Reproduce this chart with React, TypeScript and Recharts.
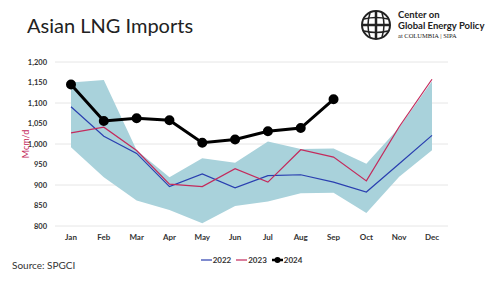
import React from 'react';
import {
  ComposedChart,
  Area,
  Line,
  XAxis,
  YAxis,
  CartesianGrid,
} from 'recharts';

const months = ['Jan', 'Feb', 'Mar', 'Apr', 'May', 'Jun', 'Jul', 'Aug', 'Sep', 'Oct', 'Nov', 'Dec'];
const imports2022 = [1091, 1019, 977, 896, 927, 893, 923, 925, 907, 883, 952, 1021];
const imports2023 = [1027, 1041, 984, 902, 896, 940, 907, 986, 968, 910, 1042, 1158];
const imports2024 = [1145, 1056, 1063, 1058, 1003, 1011, 1031, 1039, 1109, null, null, null];
const rangeLow = [992, 919, 862, 839, 807, 849, 860, 880, 881, 832, 920, 985];
const rangeHigh = [1150, 1156, 985, 919, 965, 954, 1006, 988, 989, 952, 1040, 1153];
const yTicks = [800, 850, 900, 950, 1000, 1050, 1100, 1150, 1200];

const data = months.map((m, i) => ({
  month: m,
  range: [rangeLow[i], rangeHigh[i]],
  y2022: imports2022[i],
  y2023: imports2023[i],
  y2024: imports2024[i],
}));

const FONT = 'Lato, "Open Sans", sans-serif';
const BLUE = '#2a3fb0';
const RED = '#c42a5c';

function LegendBox() {
  const item = (color: string, label: string, dot: boolean, width: number) => (
    <span style={{ display: 'inline-flex', alignItems: 'center', marginRight: 5 }}>
      <svg width={11} height={8}>
        <line x1={0} y1={4} x2={11} y2={4} stroke={color} strokeWidth={width} />
        {dot && <circle cx={5.5} cy={4} r={3} fill={color} />}
      </svg>
      <span style={{ marginLeft: 1 }}>{label}</span>
    </span>
  );
  return (
    <div
      style={{
        position: 'absolute',
        left: 0,
        width: 500,
        top: 255,
        display: 'flex',
        justifyContent: 'center',
        fontFamily: FONT,
        fontWeight: 700,
        fontSize: 8,
        color: '#333',
        paddingLeft: 4,
      }}
    >
      {item(BLUE, '2022', false, 1.2)}
      {item(RED, '2023', false, 1.2)}
      {item('#000', '2024', true, 2.5)}
    </div>
  );
}

function Logo() {
  return (
    <svg width={32} height={32} viewBox="0 0 32 32" style={{ position: 'absolute', left: 360, top: 9 }}>
      <circle cx={16} cy={16} r={14} fill="none" stroke="#222" strokeWidth={2} />
      <line x1={16} y1={2} x2={16} y2={30} stroke="#222" strokeWidth={2.5} />
      <line x1={2} y1={16} x2={30} y2={16} stroke="#222" strokeWidth={2.5} />
      <path d="M10 4 Q6 16 10 28 M22 4 Q26 16 22 28" fill="none" stroke="#222" strokeWidth={1.5} />
      <path d="M4 10 Q16 7 28 10 M4 22 Q16 25 28 22" fill="none" stroke="#222" strokeWidth={1.5} />
    </svg>
  );
}

export default function App() {
  return (
    <div style={{ position: 'absolute', left: 0, top: 0, width: 500, height: 281, background: '#fff', overflow: 'hidden' }}>
      <div
        style={{
          position: 'absolute',
          left: 27,
          top: 13,
          fontFamily: FONT,
          fontSize: 20,
          color: '#222',
          whiteSpace: 'nowrap',
        }}
      >
        Asian LNG Imports
      </div>
      <Logo />
      <div
        style={{
          position: 'absolute',
          left: 398,
          top: 9,
          fontFamily: FONT,
          fontWeight: 700,
          fontSize: 9.5,
          lineHeight: '11px',
          color: '#222',
          whiteSpace: 'nowrap',
        }}
      >
        <div>Center on</div>
        <div>Global Energy Policy</div>
        <div style={{ fontFamily: '"Liberation Serif", serif', fontWeight: 400, fontSize: 6.5, lineHeight: '9px' }}>
          at COLUMBIA | SIPA
        </div>
      </div>
      <div
        style={{
          position: 'absolute',
          left: 12,
          top: 259,
          fontFamily: FONT,
          fontSize: 10,
          color: '#333',
        }}
      >
        Source: SPGCI
      </div>
      <LegendBox />
      <ComposedChart
        width={500}
        height={281}
        data={data}
        margin={{ top: 62, right: 52, bottom: 25, left: 0 }}
        style={{ position: 'absolute', left: 0, top: 0 }}
      >
        <CartesianGrid vertical={false} stroke="#e6e6e6" />
        <XAxis
          dataKey="month"
          height={30}
          axisLine={false}
          tickLine={false}
          padding={{ left: 16, right: 16 }}
          tick={{ fontSize: 8, fontWeight: 700, fill: '#333', fontFamily: FONT }}
          tickMargin={2}
        />
        <YAxis
          width={55}
          domain={[800, 1200]}
          ticks={yTicks}
          axisLine={false}
          tickLine={false}
          tickMargin={2}
          tickFormatter={(v: number) => v.toLocaleString('en-US')}
          tick={{ fontSize: 7.5, fontWeight: 700, fill: '#333', fontFamily: FONT }}
          label={{
            value: 'Mcm/d',
            angle: -90,
            position: 'insideLeft',
            offset: 26,
            fill: RED,
            fontSize: 9,
            fontFamily: FONT,
            style: { textAnchor: 'middle' },
          }}
        />
        <Area
          dataKey="range"
          type="linear"
          stroke="none"
          fill="#a9d2db"
          fillOpacity={1}
          isAnimationActive={false}
          activeDot={false}
        />
        <Line dataKey="y2022" type="linear" stroke={BLUE} strokeWidth={1.2} dot={false} isAnimationActive={false} />
        <Line dataKey="y2023" type="linear" stroke={RED} strokeWidth={1.2} dot={false} isAnimationActive={false} />
        <Line
          dataKey="y2024"
          type="linear"
          stroke="#000"
          strokeWidth={3}
          dot={{ r: 3.5, fill: '#000', stroke: '#000' }}
          isAnimationActive={false}
        />
      </ComposedChart>
    </div>
  );
}
